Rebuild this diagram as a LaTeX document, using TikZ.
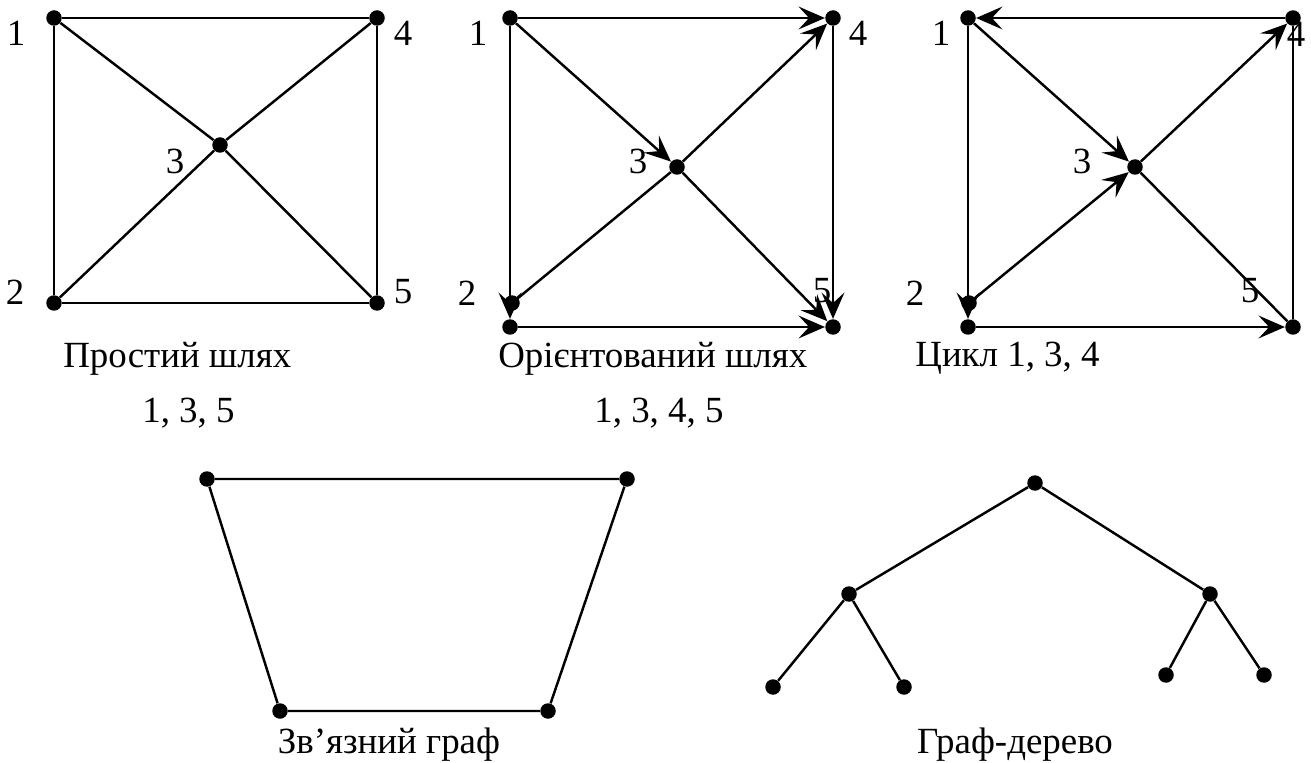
\documentclass[tikz,border=0pt]{standalone}
\usepackage{fontspec}
\setmainfont{Liberation Serif}
\usetikzlibrary{arrows.meta}

\begin{document}
\begin{tikzpicture}[
    x=0.02cm, y=-0.02cm,
    dot/.style={circle, fill, inner sep=0pt, minimum size=0.31cm},
    lbl/.style={inner sep=0pt, font=\fontsize{21}{25}\selectfont},
    captext/.style={lbl, anchor=base west},
    link/.style={line width=1.4pt},
    arr/.style={link, -{Stealth[length=15pt, width=13pt, inset=6pt]}}
]
\useasboundingbox (0,0) rectangle (1311,763);

\node (a1) [dot] at (54,18) {};
\node (a2) [dot] at (54,303) {};
\node (a3) [dot] at (220,145) {};
\node (a4) [dot] at (377,18) {};
\node (a5) [dot] at (377,303) {};
\node (la1) [lbl] at (16,33) {1};
\node (la2) [lbl] at (15,292) {2};
\node (la3) [lbl] at (175,161) {3};
\node (la4) [lbl] at (403,33) {4};
\node (la5) [lbl] at (403,292) {5};
\draw[link] (a1) -- (a4) -- (a5) -- (a2) -- (a1);
\draw[link] (a1) -- (a3) -- (a5);
\draw[link] (a2) -- (a3) -- (a4);
\node (capa) [captext] at (63,367) {Простий шлях};
\node (capa2) [captext] at (142,422) {1, 3, 5};

\node (b1) [dot] at (510,18) {};
\node (b2) [dot] at (510,327) {};
\node (b2t) [dot] at (512,303) {};
\node (b3) [dot] at (677,167) {};
\node (b4) [dot] at (833,18) {};
\node (b5) [dot] at (833,327) {};
\node (lb1) [lbl] at (478,33) {1};
\node (lb2) [lbl] at (467,293) {2};
\node (lb3) [lbl] at (638,161) {3};
\node (lb4) [lbl] at (858,33) {4};
\node (lb5) [lbl] at (822,291) {5};
\draw[arr] (b1) -- (b4);
\draw[arr] (b1) -- (b3);
\draw[arr] (b3) -- (b4);
\draw[arr] (b1) -- (b2);
\draw[arr] (b4) -- (b5);
\draw[arr] (b3) -- (b5);
\draw[arr] (b2) -- (b5);
\draw[link] (b3) -- (b2t);
\node (capb) [captext] at (498,367) {Орієнтований шлях};
\node (capb2) [captext] at (594,422) {1, 3, 4, 5};

\node (c1) [dot] at (968,18) {};
\node (c2) [dot] at (968,327) {};
\node (c2t) [dot] at (969,303) {};
\node (c3) [dot] at (1135,167) {};
\node (c4) [dot] at (1293,18) {};
\node (c5) [dot] at (1293,327) {};
\node (lc1) [lbl] at (941,33) {1};
\node (lc2) [lbl] at (915,293) {2};
\node (lc3) [lbl] at (1082,161) {3};
\node (lc4) [lbl] at (1296,34) {4};
\node (lc5) [lbl] at (1250,291) {5};
\draw[arr] (c4) -- (c1);
\draw[arr] (c1) -- (c3);
\draw[arr] (c2t) -- (c3);
\draw[arr] (c3) -- (c4);
\draw[arr] (c1) -- (c2);
\draw[arr] (c2) -- (c5);
\draw[link] (c3) -- (c5);
\draw[link] (c4) -- (c5);
\node (capc) [captext] at (915,366) {Цикл 1, 3, 4};

\node (d1) [dot] at (207,479) {};
\node (d2) [dot] at (627,479) {};
\node (d3) [dot] at (280,711) {};
\node (d4) [dot] at (548,711) {};
\draw[link] (d1) -- (d2) -- (d4) -- (d3) -- (d1);
\node (capd) [lbl, anchor=base] at (389,753) {Зв’язний граф};

\node (t0) [dot] at (1035,483) {};
\node (tl) [dot] at (849,594) {};
\node (tr) [dot] at (1210,594) {};
\node (tl1) [dot] at (773,687) {};
\node (tl2) [dot] at (904,687) {};
\node (tr1) [dot] at (1166,675) {};
\node (tr2) [dot] at (1264,675) {};
\draw[link] (tl) -- (t0) -- (tr);
\draw[link] (tl1) -- (tl) -- (tl2);
\draw[link] (tr1) -- (tr) -- (tr2);
\node (cape) [lbl, anchor=base] at (1015,753) {Граф-дерево};
\end{tikzpicture}
\end{document}
